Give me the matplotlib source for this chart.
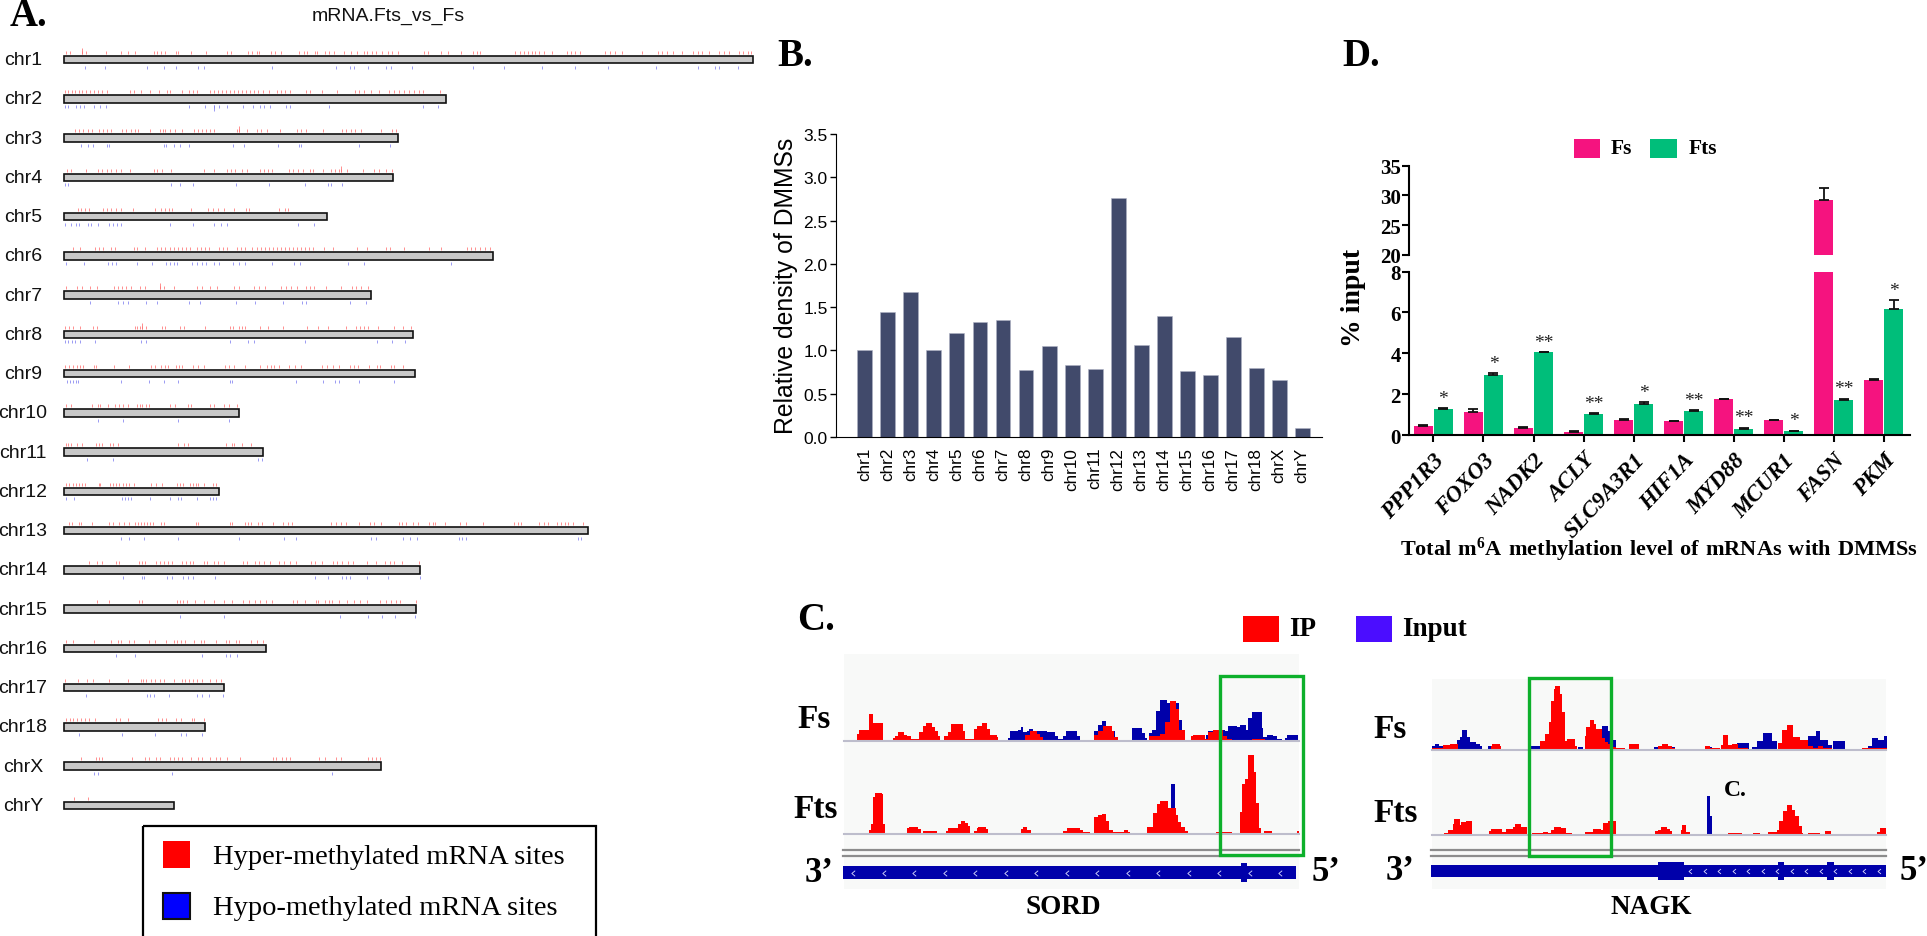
import matplotlib
matplotlib.use("Agg")
import matplotlib.pyplot as plt
from matplotlib.patches import Rectangle
from matplotlib.path import Path
import numpy as np

W, H = 1927, 937
plt.rcParams['font.family'] = ['Liberation Sans', 'DejaVu Sans']
plt.rcParams['mathtext.fontset'] = 'custom'
plt.rcParams['mathtext.bf'] = 'Liberation Serif:bold'
plt.rcParams['mathtext.rm'] = 'Liberation Serif'
SERIF = ['Liberation Serif', 'DejaVu Serif']

# ---------- Panel A data ----------
chrom_names = ['chr1', 'chr2', 'chr3', 'chr4', 'chr5', 'chr6', 'chr7', 'chr8', 'chr9', 'chr10',
               'chr11', 'chr12', 'chr13', 'chr14', 'chr15', 'chr16', 'chr17', 'chr18', 'chrX', 'chrY']
chrom_lengths = [689, 382, 334, 329, 263, 429, 307, 349, 351, 175, 199, 155, 523.5, 356, 352, 202, 160, 141, 317, 110]
# site positions, with the scale they were read at (origin, units per length step)
read_scale = [(128, 2.01)] * 7 + [(167, 2.613)] * 8 + [(161, 2.529)] * 5

hyper_sites = [
 [133,141,164,172,212,243,256,270,308,315,322,331,353,358,384,414,455,463,497,505,515,520,545,553,565,600,610,616,632,637,652,660,670,690,705,716,730,738,748,755,768,780,788,800,852,860,885,900,925,951,958,965,1035,1045,1052,1060,1068,1075,1082,1092,1108,1140,1148,1156,1165,1215,1225,1235,1250,1290,1322,1330,1340,1352,1370,1393,1402,1410,1425,1445,1455,1465,1485,1493,1502,1508],
 [130,137,144,151,158,165,172,180,188,196,204,214,260,268,282,300,318,335,342,365,380,388,396,422,430,438,446,454,462,470,478,486,494,502,510,518,528,540,556,564,572,582,615,622,646,676,712,720,732,745,762,782,792,802,812,822,832,842,850,884],
 [150,158,166,176,184,198,206,214,222,245,253,262,270,276,300,320,326,332,342,352,365,390,398,406,414,422,430,476,480,496,516,524,536,562,596,605,615,648,686,694,704,712,724,766,788,796],
 [135,142,172,197,205,214,222,232,242,260,308,315,324,344,410,430,456,464,472,486,496,522,530,538,546,580,588,598,608,622,628,648,664,672,680,684,696,728,752,762,775,788],
 [156,162,170,178,206,214,222,232,242,266,310,322,332,340,346,384,418,428,438,450,470,494,500,560,572,578],
 [147,160,190,198,206,222,230,268,275,290,314,322,332,342,350,358,366,374,382,396,404,412,420,440,448,456,476,484,492,506,516,524,532,540,548,556,564,572,580,588,596,604,612,620,628,650,668,716,738,776,784,812,862,886,938,946,955,964,974,984],
 [132,155,165,180,195,228,236,244,252,262,280,290,320,330,350,395,405,422,436,470,480,510,520,533,564,575,585,596,614,622,630,654,685,706,714,724,740],
 [170,180,190,210,242,252,352,358,366,372,382,424,430,470,480,536,600,608,625,632,640,680,700,738,803,831,856,904,930,940,950,962,987,1028,1052,1075],
 [169,180,190,200,208,216,246,250,298,338,395,405,420,430,440,460,468,476,505,518,534,587,598,610,640,678,698,708,716,730,755,770,785,842,855,870,885,915,925,935,964,984,994,1022,1028,1054],
 [172,186,240,256,262,282,300,310,322,333,357,365,372,380,388,445,458,492,500,548,558,585,597,618],
 [172,178,186,200,215,250,258,266,288,296,307,465,480,490,590,607,612,633,656],
 [172,180,190,198,206,214,222,258,262,288,296,304,312,320,328,336,350,395,408,422,462,470,478,496,504,512,518,534,556,565],
 [180,188,205,212,240,285,296,312,324,336,352,360,368,376,384,392,400,420,428,512,518,600,605,640,648,656,675,685,713,738,752,762,865,878,890,905,937,966,976,995,1042,1050,1060,1078,1092,1122,1130,1136,1162,1202,1218,1262,1342,1352,1362,1408,1420,1432,1455,1465,1475,1483,1498,1523],
 [233,253,265,303,312,362,370,378,408,418,428,438,448,476,486,496,504,533,540,560,570,584,634,646,666,676,690,706,730,742,758,772,812,824,840,870,880,893,908,922,958,982,1006,1018,1030,1050,1094],
 [254,284,364,372,462,470,478,488,508,534,558,584,605,636,650,665,680,695,710,765,775,796,825,832,850,860,868,885,906,925,940,960,992,1008,1022,1034,1045,1086],
 [165,183,238,280,298,305,325,338,377,390,418,440,448,456,466,490,508,515,545,570,578,595,603,633,650,665],
 [163,196,218,235,275,322,355,362,368,382,390,403,415,440,460,468,478,488,498,510,530,545,558],
 [165,175,184,195,205,215,225,240,292,302,324,398,408,420,445,457,484,490,515],
 [205,242,250,258,332,365,375,393,405,430,440,450,460,482,500,510,530,545,555,572,605,690,697,713,722,733,805,820,850,862,930,940,950,960],
 [186,222],
]
hypo_sites = [
 [170,210,295,330,353,397,410,546,674,702,711,740,775,785,827,950,1012,1088,1156,1222,1318,1402,1437,1444,1483],
 [131,137,152,160,168,188,200,212,380,412,430,440,456,488,508,522,530,542,574,582,660,850,880],
 [162,176,186,214,218,328,334,350,362,380,468,490,558,600,604,720,784],
 [131,136,344,362,388,473,540,612,658,664,687],
 [131,142,152,158,176,182,196,218,226,234,242,342,388,430,444,456,598,630],
 [132,168,216,224,232,275,305,334,342,350,356,385,395,405,413,430,440,468,480,492,546,590,602,698,730,905],
 [180,236,247,256,292,315,380,401,473,511,568,607,615,703,736],
 [169,178,188,196,208,247,367,382,600,647,664,798,984,1023,1057],
 [175,182,190,198,204,315,388,428,466,600,607,772,844,875,886,937,1028],
 [256,322,464,598],
 [228,296,674,684],
 [171,192,318,326,334,342,393,443,466,474,514,548,556,563],
 [317,338,377,466,623,743,772,968,982,1054,1070,1090,1198,1208,1218,1510,1518],
 [320,372,377,437,450,477,492,503,561,823,858,893,905,915,958,1013,1096],
 [471,584,887,962,997,1032,1083],
 [292,340,509,570,580,598],
 [216,370,378,388,426,497,510,528,562],
 [200,308,391,456,470,509],
 [238,246,435,838],
 [],
]
tall_hyper = {0: [164], 2: [480], 3: [684], 6: [320], 7: [372]}
tall_hypo = {1: [430]}

# ---------- Panel B data ----------
density_labels = chrom_names
density_values = [1.0, 1.44, 1.67, 1.01, 1.2, 1.33, 1.35, 0.77, 1.05, 0.83, 0.78, 2.76, 1.06, 1.4, 0.76, 0.72, 1.16, 0.8, 0.66, 0.1]

# ---------- Panel D data ----------
gene_names = ['PPP1R3', 'FOXO3', 'NADK2', 'ACLY', 'SLC9A3R1', 'HIF1A', 'MYD88', 'MCUR1', 'FASN', 'PKM']
fs_values = [0.47, 1.13, 0.36, 0.17, 0.73, 0.68, 1.76, 0.73, 29.2, 2.7]
fs_errors = [0.05, 0.15, 0.05, 0.03, 0.07, 0.03, 0.03, 0.04, 2.0, 0.04]
fts_values = [1.28, 2.95, 4.05, 1.05, 1.55, 1.2, 0.32, 0.2, 1.75, 6.15]
fts_errors = [0.05, 0.08, 0.02, 0.04, 0.07, 0.04, 0.05, 0.03, 0.05, 0.45]
stars = ['*', '*', '**', '**', '*', '**', '**', '*', '**', '*']

# ---------- Panel C data: (position, coverage) step reads ----------
sord_fs_ip = [(52,22),(58,35),(87,82),(99,55),(130,0),(160,9),(165,17),(175,27),(192,19),(200,15),(212,7),(238,27),(248,47),(258,54),(275,42),(285,32),(293,15),(300,4),(312,15),(325,27),(332,52),(368,32),(374,7),(402,37),(412,47),(425,54),(442,37),(450,19),(470,12),(474,0),(554,19),(570,32),(590,22),(600,12),(610,0),(762,19),(775,32),(790,45),(815,32),(823,12),(835,4),(840,2),(875,4),(928,15),(940,17),(960,22),(975,57),(990,122),(1008,97),(1018,35),(1035,2),(1052,15),(1058,19),(1095,7),(1105,27),(1120,35),(1150,17),(1160,7),(1175,0),(1235,7),(1275,0)]
sord_fs_input = [(130,5),(142,0),(476,3),(484,5),(498,0),(503,10),(510,30),(535,35),(542,42),(550,27),(560,30),(566,38),(578,30),(610,30),(622,27),(645,17),(655,8),(668,17),(678,30),(710,15),(720,0),(745,4),(762,32),(775,50),(785,62),(798,45),(815,30),(825,0),(875,39),(905,25),(915,10),(922,0),(928,25),(935,35),(947,92),(960,125),(980,115),(1018,65),(1025,35),(1035,0),(1098,20),(1105,30),(1120,35),(1155,30),(1165,47),(1190,42),(1200,50),(1218,35),(1225,70),(1235,87),(1265,40),(1270,12),(1280,20),(1300,15),(1310,8),(1325,0),(1335,10),(1340,18),(1375,0)]
sord_fts_ip = [(65,3),(87,12),(93,30),(98,110),(105,122),(125,118),(130,30),(136,3),(142,0),(200,17),(208,20),(235,14),(243,0),(248,8),(290,3),(295,0),(318,7),(325,18),(355,28),(362,38),(375,32),(385,22),(390,0),(402,8),(412,17),(415,20),(438,14),(445,0),(522,2),(543,14),(550,19),(562,12),(573,2),(622,0),(650,3),(670,8),(682,18),(720,12),(730,5),(750,0),(762,50),(775,55),(785,60),(798,38),(808,12),(820,5),(853,12),(863,5),(870,0),(875,2),(922,20),(940,62),(952,90),(960,98),(985,78),(1008,55),(1015,35),(1022,20),(1035,8),(1045,0),(1063,2),(1103,0),(1128,5),(1175,0),(1200,65),(1206,148),(1215,165),(1223,236),(1242,185),(1248,92),(1257,18),(1263,0),(1272,7),(1295,0),(1370,8),(1377,0)]
sord_fts_input = [(992,149),(1004,0)]

nagk_fs_ip = [(10,4),(45,15),(65,17),(90,0),(188,10),(192,18),(215,10),(218,2),(245,0),(335,27),(350,47),(362,82),(370,147),(378,182),(382,192),(395,167),(402,112),(412,27),(418,31),(440,12),(447,0),(470,40),(475,67),(485,90),(497,77),(505,62),(522,34),(530,22),(540,17),(555,7),(565,4),(590,2),(603,17),(632,0),(689,12),(703,18),(721,10),(733,4),(741,0),(831,12),(846,5),(876,0),(879,15),(886,45),(901,15),(911,18),(931,5),(961,0),(991,3),(1041,3),(1051,20),(1061,60),(1076,73),(1096,38),(1116,30),(1131,28),(1141,12),(1156,5),(1171,12),(1184,5),(1211,0),(1256,3),(1286,0),(1301,4),(1321,5),(1376,0)]
nagk_fs_input = [(10,10),(22,18),(34,12),(45,0),(87,28),(95,38),(103,60),(118,38),(125,22),(145,18),(155,10),(162,0),(180,10),(188,0),(292,2),(310,12),(335,0),(450,7),(465,3),(470,0),(522,70),(540,55),(555,30),(565,0),(678,8),(690,0),(733,8),(741,0),(814,3),(831,8),(851,0),(926,20),(963,0),(971,7),(986,25),(1006,50),(1033,25),(1046,0),(1141,42),(1164,57),(1176,30),(1201,15),(1211,0),(1216,27),(1250,0),(1321,10),(1333,35),(1351,28),(1369,42),(1376,0)]
nagk_fts_ip = [(48,4),(60,14),(75,32),(78,47),(95,28),(100,38),(115,40),(133,0),(182,12),(188,17),(222,7),(235,17),(255,22),(262,32),(280,22),(298,0),(312,5),(345,8),(360,5),(370,15),(378,23),(400,20),(415,5),(432,0),(450,2),(470,8),(495,18),(520,14),(525,35),(540,40),(565,3),(608,0),(681,10),(689,15),(699,22),(716,18),(726,10),(731,0),(759,15),(763,28),(773,8),(786,3),(803,0),(899,5),(941,0),(976,5),(996,0),(1021,7),(1046,15),(1053,40),(1066,70),(1076,90),(1091,75),(1101,55),(1113,25),(1121,5),(1126,0),(1141,5),(1176,0),(1191,12),(1209,0),(1326,3),(1346,7),(1356,20),(1373,28)]
nagk_fts_input = [(836,115),(846,57),(853,0)]

# ---------- helpers ----------
fig = plt.figure(figsize=(W / 100, H / 100), dpi=100, facecolor='white')

def ax_px(left, top, right, bottom, **kw):
    return fig.add_axes([left / W, 1 - bottom / H, (right - left) / W, (bottom - top) / H], **kw)

over = ax_px(0, 0, W, H)
over.set_xlim(0, W)
over.set_ylim(H, 0)
over.axis('off')
over.set_zorder(10)
over.patch.set_alpha(0)

def label(x, y, s, size, ha='left', va='center', weight='bold', family=SERIF, **kw):
    over.text(x, y, s, fontsize=size, ha=ha, va=va, fontweight=weight, family=family, **kw)

# ---------- Panel A ----------
axA = ax_px(0, 0, 780, 825)
axA.set_xlim(-64, 716)
axA.set_ylim((825 - 60.7) / 39.25, -60.7 / 39.25)
axA.axis('off')
rows = np.arange(len(chrom_names))
axA.barh(rows, chrom_lengths, left=0, height=0.19, color='#C8C8C8', edgecolor='#111111', linewidth=1.2)
for i, name in enumerate(chrom_names):
    z0, sc = read_scale[i]
    axA.text(-41, i, name, fontsize=14, ha='center', va='center', color='#111111')
    axA.vlines((np.array(hyper_sites[i]) - z0) / sc, i - 0.225, i - 0.15, color='#FF7070', linewidth=0.55)
    if hypo_sites[i]:
        axA.vlines((np.array(hypo_sites[i]) - z0) / sc, i + 0.15, i + 0.225, color='#8080F0', linewidth=0.55)
    if i in tall_hyper:
        axA.vlines((np.array(tall_hyper[i]) - z0) / sc, i - 0.30, i - 0.15, color='#FF7070', linewidth=0.55)
    if i in tall_hypo:
        axA.vlines((np.array(tall_hypo[i]) - z0) / sc, i + 0.15, i + 0.30, color='#8080F0', linewidth=0.55)
label(388, 16, 'mRNA.Fts_vs_Fs', 14, ha='center', weight='normal', family=['Liberation Sans'], color='#111111')
label(10, 17, 'A.', 28)

over.add_patch(Rectangle((143, 827), 453, 125, fill=False, edgecolor='black', linewidth=1.6))
over.add_patch(Rectangle((162.5, 842), 27.5, 27, facecolor='#FF0000', edgecolor='none'))
over.add_patch(Rectangle((162.5, 893.5), 27.5, 26, facecolor='#0000FF', edgecolor='#111111', linewidth=1.5))
label(213, 858, 'Hyper-methylated mRNA sites', 20.5, weight='normal')
label(213, 909, 'Hypo-methylated mRNA sites', 20.5, weight='normal')

# ---------- Panel B ----------
axB = ax_px(836, 135, 1322, 438)
axB.bar(np.arange(len(density_values)), density_values, width=0.65, color='#414A6B', edgecolor='#AEB1C4', linewidth=0.4)
axB.set_xlim(-1.256, 19.86)
axB.set_ylim(0, 3.5)
axB.set_yticks(np.arange(0, 3.6, 0.5))
axB.set_yticklabels([f'{v:.1f}' for v in np.arange(0, 3.6, 0.5)], fontsize=12.5)
axB.set_xticks(np.arange(len(density_labels)))
axB.set_xticklabels(density_labels, rotation=90, fontsize=12.3)
axB.tick_params(axis='x', length=0, pad=7)
axB.tick_params(axis='y', length=4, width=1, pad=2)
for s in ['top', 'right']:
    axB.spines[s].set_visible(False)
label(786, 286, 'Relative density of DMMSs', 17.8, ha='center', weight='normal',
      family=['Liberation Sans'], rotation=90)
label(777, 57, 'B.', 28)

# ---------- Panel D ----------
FS_COL, FTS_COL = '#F5137F', '#00BE7A'
x = np.arange(len(gene_names))
offset, bw = 0.2, 0.379
axD = ax_px(1409, 272.5, 1910, 436.4)
axU = ax_px(1409, 166.5, 1910, 256)
for ax in (axD, axU):
    ax.bar(x - offset, fs_values, width=bw, color=FS_COL)
    ax.bar(x + offset, fts_values, width=bw, color=FTS_COL)
    ax.errorbar(x - offset, fs_values, yerr=[np.zeros(10), fs_errors], fmt='none', ecolor='#111111', elinewidth=1.3, capsize=3.5, capthick=1.3)
    ax.errorbar(x + offset, fts_values, yerr=[np.zeros(10), fts_errors], fmt='none', ecolor='#111111', elinewidth=1.3, capsize=3.5, capthick=1.3)
    ax.set_xlim(-0.487, 9.52)
    for s in ['top', 'right']:
        ax.spines[s].set_visible(False)
    ax.spines['left'].set_linewidth(1.5)
axD.set_ylim(0, 8)
axU.set_ylim(20, 35)
axU.spines['bottom'].set_visible(False)
axU.set_xticks([])
axD.spines['bottom'].set_linewidth(1.5)
axD.set_yticks([0, 2, 4, 6, 8])
axU.set_yticks([20, 25, 30, 35])
for ax in (axD, axU):
    ax.set_yticklabels([str(int(t)) for t in ax.get_yticks()], fontsize=15, fontweight='bold', family=SERIF)
    ax.tick_params(axis='y', length=5, width=1.5, pad=1)
axD.set_xticks(x)
axD.set_xticklabels(gene_names, rotation=47, ha='right', rotation_mode='anchor', fontsize=16.5,
                    fontweight='bold', fontstyle='italic', family=SERIF)
axD.tick_params(axis='x', length=5, width=1.5, pad=5)
for xi, v, e, st in zip(x, fts_values, fts_errors, stars):
    axD.annotate(st, (xi + offset, v + e), xytext=(0, 1), textcoords='offset points', ha='center', va='bottom',
                 fontsize=14, family=SERIF, color='#222222', annotation_clip=False)
label(1342, 57, 'D.', 28)
label(1353, 298, '% input', 20, ha='center', rotation=90)
over.add_patch(Rectangle((1574, 139.5), 26, 19, facecolor=FS_COL, edgecolor='none'))
over.add_patch(Rectangle((1650, 139.5), 27, 19, facecolor=FTS_COL, edgecolor='none'))
label(1611, 149, 'Fs', 15.5)
label(1688.5, 149, 'Fts', 15.5)
label(1659, 550, r'$\mathbf{Total\ m^{6}A\ methylation\ level\ of\ mRNAs\ with\ DMMSs}$', 16, ha='center')

# ---------- Panel C ----------
def steps(pairs):
    p = np.array([a for a, _ in pairs], float)
    c = np.array([b for _, b in pairs], float)
    return p, c

def track(x0, x1, ytop, baseline, origin_px, ip, inp):
    ax = ax_px(x0, ytop, x1, baseline)
    ax.set_xlim((x0 - origin_px) * 3, (x1 - origin_px) * 3)
    ax.set_ylim(0, (baseline - ytop) * 3)
    ax.axis('off')
    for pairs, col, z in ((inp, '#0000AA', 2), (ip, '#FF0000', 3)):
        p, c = steps(pairs)
        ax.fill_between(p, 0, c, step='post', color=col, linewidth=0, zorder=z)
    ax.axhline(0, color='#BDBDCC', linewidth=1.5, zorder=4, clip_on=False)

CHEVRON = Path([(0.6, 1), (-0.6, 0), (0.6, -1)], [Path.MOVETO, Path.LINETO, Path.LINETO])

def bg(x0, x1, y0, y1):
    bgax.add_patch(Rectangle((x0, y0), x1 - x0, y1 - y0, facecolor='#F8F9F8', edgecolor='none', zorder=0))

bgax = ax_px(0, 0, W, H)
bgax.set_xlim(0, W)
bgax.set_ylim(H, 0)
bgax.axis('off')
bgax.set_zorder(-1)
bg(844, 1299, 655, 890)
bg(1432, 1886, 680, 890)

track(844, 1299, 660, 742.3, 840, sord_fs_ip, sord_fs_input)
track(844, 1299, 745, 834.7, 840, sord_fts_ip, sord_fts_input)
track(1432, 1886, 680, 750.7, 1428, nagk_fs_ip, nagk_fs_input)
track(1432, 1886, 755, 835.7, 1428, nagk_fts_ip, nagk_fts_input)

GREEN = '#0DB02B'
over.add_patch(Rectangle((1219.5, 676.5), 83, 179.5, fill=False, edgecolor=GREEN, linewidth=2.4))
over.add_patch(Rectangle((1528.5, 678.5), 82.5, 178.5, fill=False, edgecolor=GREEN, linewidth=2.4))
for (x0, x1) in ((843, 1299), (1431, 1886)):
    for yy in (851, 857):
        over.plot([x0, x1], [yy, yy], color='#8C8C8C', linewidth=1.6, zorder=0.5)

BLUE = '#0000AA'
over.add_patch(Rectangle((843, 867), 453, 13, facecolor=BLUE, edgecolor='none'))
over.add_patch(Rectangle((1241, 864), 6, 19, facecolor=BLUE, edgecolor='none'))
over.plot(np.arange(853, 1290, 30.5), np.full(15, 873.5), ls='none', marker=CHEVRON, ms=4, mfc='none', mec='#DDDDFF', mew=0.6)
over.add_patch(Rectangle((1431, 866), 455, 11.5, facecolor=BLUE, edgecolor='none'))
over.add_patch(Rectangle((1658, 863), 26, 17.5, facecolor=BLUE, edgecolor='none'))
over.add_patch(Rectangle((1778, 863), 6, 17.5, facecolor=BLUE, edgecolor='none'))
over.add_patch(Rectangle((1827, 863), 7, 17.5, facecolor=BLUE, edgecolor='none'))
over.plot(np.arange(1690, 1886, 14.5), np.full(14, 872), ls='none', marker=CHEVRON, ms=3.5, mfc='none', mec='#DDDDFF', mew=0.6)

label(797, 621, 'C.', 28)
over.add_patch(Rectangle((1242.5, 617), 36.5, 26, facecolor='#FF0000', edgecolor='none'))
over.add_patch(Rectangle((1356, 617), 36, 26, facecolor='#4B0DFF', edgecolor='none'))
label(1289, 630, 'IP', 19.5)
label(1402, 630, 'Input', 19.5)
label(797, 720, 'Fs', 24)
label(793, 810, 'Fts', 24)
label(805, 874, '3’', 25)
label(1312, 873, '5’', 25)
label(1063, 908, 'SORD', 19.5, ha='center')
label(1373, 730, 'Fs', 24)
label(1373, 814, 'Fts', 24)
label(1386, 872, '3’', 25)
label(1900, 872, '5’', 25)
label(1651, 908, 'NAGK', 19.5, ha='center')
label(1724, 791, 'C.', 17)

fig.savefig('out.png', dpi=100)
